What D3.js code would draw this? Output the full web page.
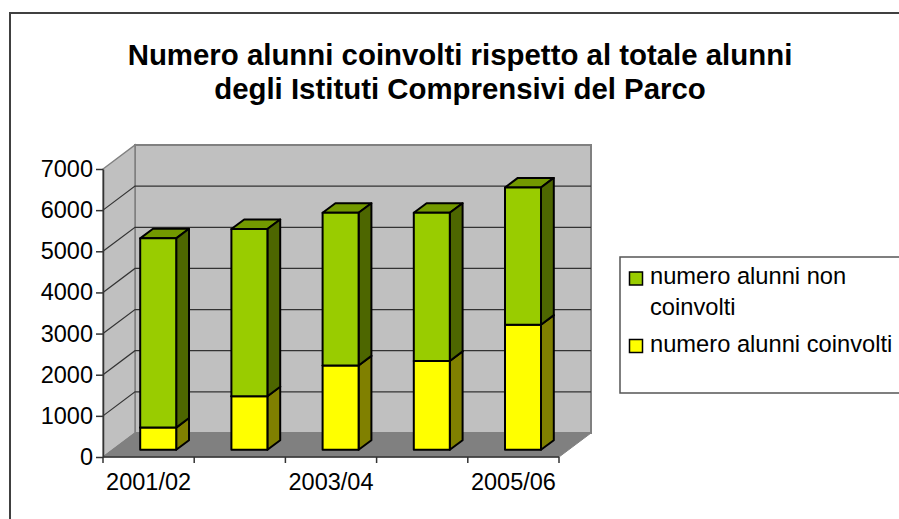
<!DOCTYPE html>
<html>
<head>
<meta charset="utf-8">
<script src="https://cdn.jsdelivr.net/npm/d3@7"></script>
<style>
    html, body { margin: 0; padding: 0; background: #fff; overflow: hidden; }
    svg { display: block; }
    text { font-family: "Liberation Sans", Arial, sans-serif; fill: #000; }
</style>
</head>
<body>
<div id="chart"></div>
<script>
const categories = ["2001/02", "2002/03", "2003/04", "2004/05", "2005/06"];
const shownCategories = ["2001/02", "2003/04", "2005/06"];
const coinvolti = [540, 1300, 2050, 2160, 3040];
const nonCoinvolti = [4600, 4065, 3710, 3600, 3335];
const yTicks = [0, 1000, 2000, 3000, 4000, 5000, 6000, 7000];
const titleLines = ["Numero alunni coinvolti rispetto al totale alunni", "degli Istituti Comprensivi del Parco"];

const width = 899, height = 519;
const svg = d3.select("#chart").append("svg")
    .attr("width", width)
    .attr("height", height);

// Chart frame, its right and bottom edges fall outside the picture.
svg.append("rect")
    .attr("x", 10).attr("y", 13)
    .attr("width", 920).attr("height", 540)
    .attr("fill", "#fff").attr("stroke", "#404040").attr("stroke-width", 2);

// Title.
svg.selectAll(".title")
    .data(titleLines)
    .enter()
    .append("text")
    .attr("x", 460)
    .attr("y", (d, i) => 65 + i * 34)
    .attr("text-anchor", "middle")
    .style("font-size", "29.4px")
    .style("font-weight", "bold")
    .text(d => d);

// Scales for the front plane, the depth offset is added by hand below.
const x = d3.scaleBand().domain(categories).range([103, 559]);
const y = d3.scaleLinear().domain([0, 7000]).range([457, 169]);
const depthX = 32, depthY = -24;
const at = (px, py, depth) => [px + depthX * depth, py + depthY * depth];
const line = d3.line();
const poly = pts => line(pts) + "Z";

// Back and side walls, floor.
const y0 = y(0), yTop = y(7000), xL = x.range()[0], xR = x.range()[1];
svg.append("path")
    .attr("d", poly([at(xL, y0, 1), at(xR, y0, 1), at(xR, yTop, 1), at(xL, yTop, 1)]))
    .attr("fill", "#c0c0c0").attr("stroke", "#808080").attr("stroke-width", 2);
svg.append("path")
    .attr("d", poly([at(xL, y0, 0), at(xL, y0, 1), at(xL, yTop, 1), at(xL, yTop, 0)]))
    .attr("fill", "#c0c0c0").attr("stroke", "#808080").attr("stroke-width", 1.5);
svg.append("path")
    .attr("d", poly([at(xL, y0, 0), at(xR, y0, 0), at(xR, y0, 1), at(xL, y0, 1)]))
    .attr("fill", "#808080").attr("stroke", "#808080");

// Gridlines on both walls.
const grid = yTicks.filter(d => d > 0 && d < 7000);
svg.selectAll(".grid")
    .data(grid)
    .enter()
    .append("path")
    .attr("d", d => line([at(xL, y(d), 0), at(xL, y(d), 1), at(xR, y(d), 1)]))
    .attr("fill", "none")
    .attr("stroke", "#333")
    .attr("stroke-width", 1.2);

// Bars: front face, side and top for each stacked segment.
const barWidth = 36, barFront = 0.3, barBack = 0.7;
const segments = categories.flatMap((c, i) => [
    { c, from: 0, to: coinvolti[i], front: "#ffff00", side: "#808000", top: "#cccc00" },
    { c, from: coinvolti[i], to: coinvolti[i] + nonCoinvolti[i], front: "#99cc00", side: "#4d6600", top: "#739900" }
]);
const bars = svg.selectAll(".bar")
    .data(segments)
    .enter()
    .append("g")
    .attr("stroke", "#000")
    .attr("stroke-width", 2)
    .attr("stroke-linejoin", "round");
const left = d => x(d.c) + (x.bandwidth() - barWidth) / 2;
bars.append("path")
    .attr("fill", d => d.top)
    .attr("d", d => poly([
        at(left(d), y(d.to), barFront), at(left(d) + barWidth, y(d.to), barFront),
        at(left(d) + barWidth, y(d.to), barBack), at(left(d), y(d.to), barBack)]));
bars.append("path")
    .attr("fill", d => d.side)
    .attr("d", d => poly([
        at(left(d) + barWidth, y(d.from), barFront), at(left(d) + barWidth, y(d.from), barBack),
        at(left(d) + barWidth, y(d.to), barBack), at(left(d) + barWidth, y(d.to), barFront)]));
bars.append("path")
    .attr("fill", d => d.front)
    .attr("d", d => poly([
        at(left(d), y(d.from), barFront), at(left(d) + barWidth, y(d.from), barFront),
        at(left(d) + barWidth, y(d.to), barFront), at(left(d), y(d.to), barFront)]));

// Axes.
const yAxis = svg.append("g")
    .attr("transform", `translate(${xL},0)`)
    .call(d3.axisLeft(y).tickValues(yTicks).tickFormat(d3.format("d")).tickSize(7).tickPadding(3).tickSizeOuter(0));
yAxis.selectAll("text").style("font-size", "23.5px");
yAxis.selectAll("line, path").attr("stroke", "#333").attr("stroke-width", 1.5);

const xTickPos = d3.range(categories.length + 1).map(i => xL + i * x.step());
const xAxisLine = svg.append("g");
xAxisLine.append("path")
    .attr("d", line([[xL, y0], [xR, y0]]))
    .attr("stroke", "#333").attr("stroke-width", 1.5);
xAxisLine.selectAll("line")
    .data(xTickPos)
    .enter()
    .append("line")
    .attr("x1", d => d).attr("x2", d => d)
    .attr("y1", y0).attr("y2", y0 + 6)
    .attr("stroke", "#333").attr("stroke-width", 1.5);
xAxisLine.selectAll("text")
    .data(shownCategories)
    .enter()
    .append("text")
    .attr("x", d => x(d) + x.bandwidth() / 2)
    .attr("y", 490)
    .attr("text-anchor", "middle")
    .style("font-size", "23.5px")
    .text(d => d);

// Legend, its right edge falls outside the picture.
const legend = svg.append("g");
legend.append("rect")
    .attr("x", 620).attr("y", 257)
    .attr("width", 300).attr("height", 136)
    .attr("fill", "#fff").attr("stroke", "#555").attr("stroke-width", 1.5);
const legendItems = [
    { lines: ["numero alunni non", "coinvolti"], color: "#99cc00", y: 284 },
    { lines: ["numero alunni coinvolti"], color: "#ffff00", y: 351.5 }
];
legendItems.forEach(item => {
    legend.append("rect")
        .attr("x", 629.5).attr("y", item.y - 12)
        .attr("width", 13).attr("height", 13)
        .attr("fill", item.color).attr("stroke", "#000").attr("stroke-width", 1.5);
    item.lines.forEach((t, i) => {
        legend.append("text")
            .attr("x", 650)
            .attr("y", item.y + i * 31)
            .style("font-size", "23.7px")
            .text(t);
    });
});
</script>
</body>
</html>
